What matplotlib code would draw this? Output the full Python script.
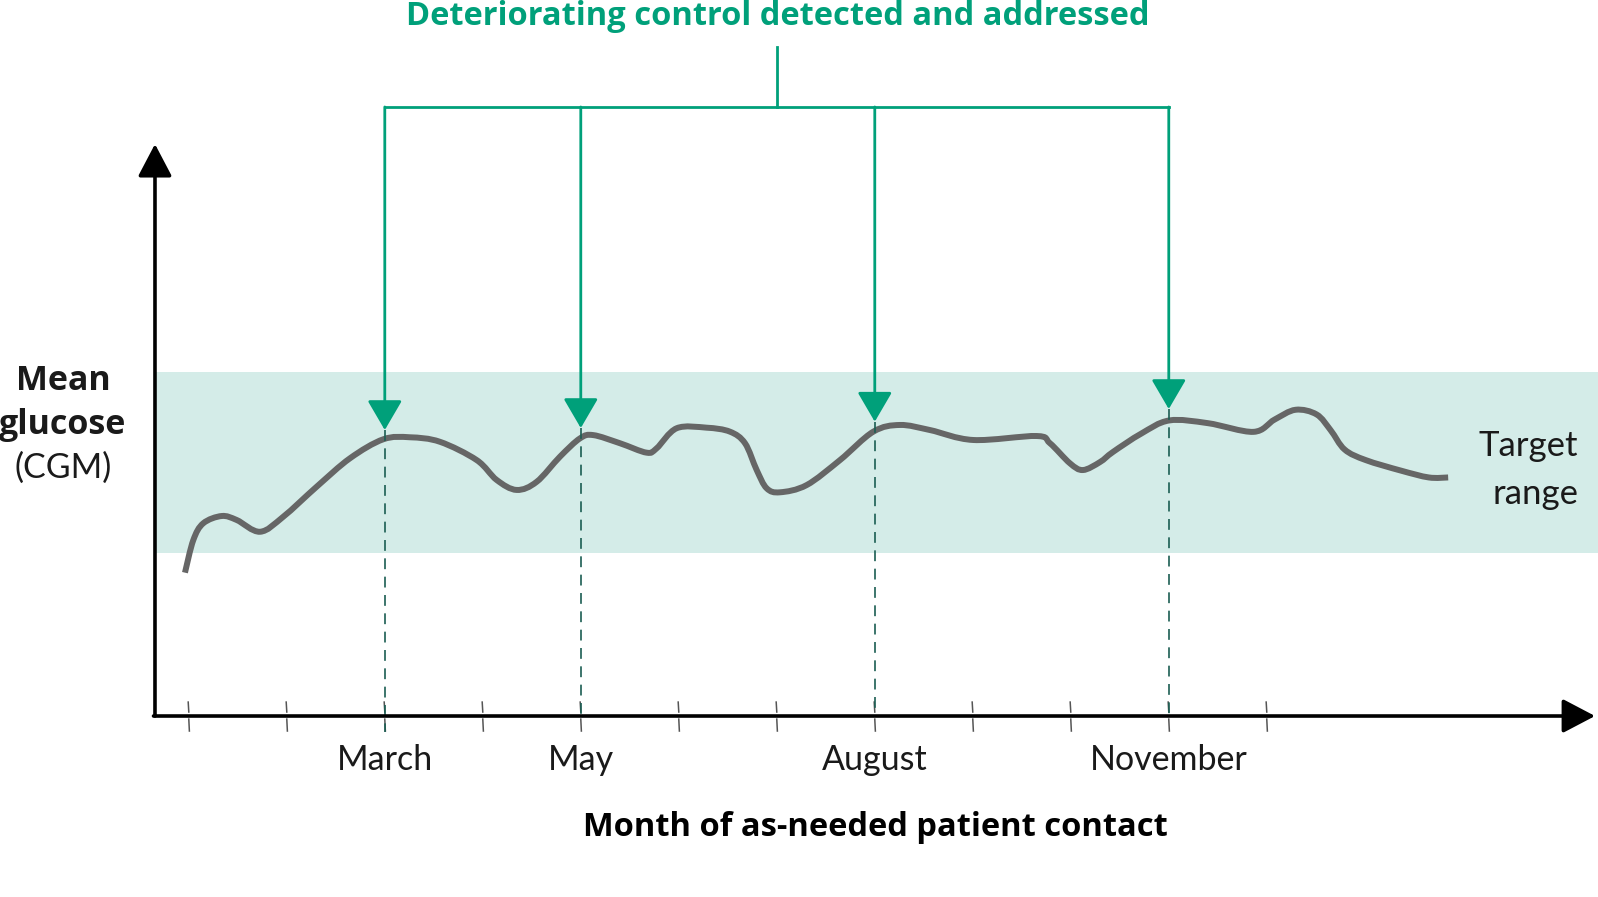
import numpy as np
import matplotlib.pyplot as plt
from matplotlib.path import Path
from matplotlib.patches import PathPatch

plt.rcParams['font.family'] = ['Lato', 'DejaVu Sans']

# glucose trace (month position, arbitrary glucose units)
months = [0.961, 1.046, 1.148, 1.336, 1.489, 1.727, 1.964, 2.305, 2.645, 2.985,
          3.257, 3.563, 3.938, 4.142, 4.346, 4.550, 4.788, 4.992, 5.128, 5.400,
          5.672, 5.774, 5.979, 6.285, 6.522, 6.676, 6.795, 6.897, 7.033, 7.305,
          7.645, 7.985, 8.257, 8.563, 9.005, 9.652, 9.788, 9.992, 10.124, 10.298,
          10.431, 10.718, 11.005, 11.399, 11.864, 12.080, 12.294, 12.509, 12.652, 12.795,
          13.010, 13.368, 13.654, 13.851]
glucose = [7.92, 9.72, 10.65, 11.05, 10.83, 10.18, 11.01, 12.67, 14.24, 15.29,
           15.40, 15.15, 14.14, 13.04, 12.49, 12.94, 14.33, 15.34, 15.52, 15.07,
           14.55, 14.79, 15.90, 15.93, 15.71, 15.07, 13.59, 12.58, 12.36, 12.76,
           14.14, 15.71, 16.08, 15.80, 15.25, 15.47, 15.07, 13.96, 13.59, 14.03,
           14.59, 15.60, 16.33, 16.18, 15.70, 16.38, 16.92, 16.66, 15.79, 14.72,
           14.14, 13.56, 13.18, 13.18]

target_low, target_high = 9.0, 19.0
tick_months = list(range(1, 13))
contact_months = [3, 5, 8, 11]
contact_labels = ["March", "May", "August", "November"]
arrow_tips = [15.8, 15.91, 16.26, 16.96]

green = "#00a07a"
dark_green = "#1b5e53"
grey = "#666666"
text_col = "#1a1a1a"
bold_font = ['Open Sans', 'DejaVu Sans']

fig = plt.figure(figsize=(15.98, 8.97), dpi=100)
ax = fig.add_axes([0, 0, 1, 1])
ax.set_xlim(-0.9265, 15.38)
ax.set_ylim(-10.0, 39.56)
ax.axis("off")

y_axis_x = 0.655
x_end = 15.35
y_end = 31.6

# target band
ax.fill_between([y_axis_x, 15.38], target_low, target_high, color="#d4ece8", lw=0, zorder=0)

# axes with arrowheads
head = "-|>,head_length=2.0,head_width=1.05"
ax.annotate("", xy=(y_axis_x, y_end), xytext=(y_axis_x, 0),
            arrowprops=dict(arrowstyle=head, mutation_scale=10, color="black", lw=2.6,
                            shrinkA=0, shrinkB=0), zorder=5)
ax.annotate("", xy=(x_end, 0), xytext=(y_axis_x - 0.015, 0),
            arrowprops=dict(arrowstyle=head, mutation_scale=10, color="black", lw=2.6,
                            shrinkA=0, shrinkB=0), zorder=5)

# tick marks broken by the axis line
for m in tick_months:
    ax.plot([m - 0.006, m], [0.77, 0.22], color="#555555", lw=1.1, zorder=4)
    ax.plot([m, m + 0.006], [-0.17, -0.83], color="#555555", lw=1.1, zorder=4)

# glucose curve, drawn as a smooth bezier path through the read points
pts = np.column_stack([months, glucose])
n = len(pts)
verts = [pts[0]]
codes = [Path.MOVETO]
for i in range(n - 1):
    p0, p1 = pts[max(i - 1, 0)], pts[i]
    p2, p3 = pts[i + 1], pts[min(i + 2, n - 1)]
    verts += [p1 + (p2 - p0) / 6, p2 - (p3 - p1) / 6, p2]
    codes += [Path.CURVE4] * 3
ax.add_patch(PathPatch(Path(verts, codes), fill=False, edgecolor=grey, lw=4.3,
                       capstyle="butt", joinstyle="round", zorder=3))

# dashed drop lines, arrows, labels
bracket_y = 33.65
for m, tip, lab in zip(contact_months, arrow_tips, contact_labels):
    bottom = -0.9 if lab == "March" else 0.0
    ax.plot([m, m], [tip, bottom], color=dark_green, lw=1.2, dashes=(6.5, 4.5), zorder=4)
    ax.annotate("", xy=(m, tip), xytext=(m, bracket_y),
                arrowprops=dict(arrowstyle="-|>,head_length=1.85,head_width=1.08", mutation_scale=10,
                                color=green, lw=2.0, shrinkA=0, shrinkB=0), zorder=6)
    ax.text(m, -2.98, lab, ha="center", va="baseline", fontsize=24.5, color=text_col)

# bracket
ax.plot([contact_months[0], contact_months[-1]], [bracket_y, bracket_y], color=green, lw=2.0,
        solid_capstyle="projecting")
ax.plot([7.0, 7.0], [bracket_y, 36.96], color=green, lw=2.0)
ax.text(7.007, 38.2, "Deteriorating control detected and addressed", ha="center", va="baseline",
        fontsize=23.5, fontweight="bold", color=green, family=bold_font)

# labels
ax.text(8.01, -6.63, "Month of as-needed patient contact", ha="center", va="baseline",
        fontsize=23.5, fontweight="bold", color="black", family=bold_font)
ax.text(-0.284, 18.0, "Mean", ha="center", va="baseline", fontsize=24.5, fontweight="bold",
        color=text_col, family=bold_font)
ax.text(-0.284, 15.58, "glucose", ha="center", va="baseline", fontsize=24.5, fontweight="bold",
        color=text_col, family=bold_font)
ax.text(-0.284, 13.15, "(CGM)", ha="center", va="baseline", fontsize=24.5, color=text_col)
ax.text(15.18, 14.34, "Target", ha="right", va="baseline", fontsize=25, color=text_col)
ax.text(15.18, 11.71, "range", ha="right", va="baseline", fontsize=25, color=text_col)

fig.savefig("out.png", dpi=100)
